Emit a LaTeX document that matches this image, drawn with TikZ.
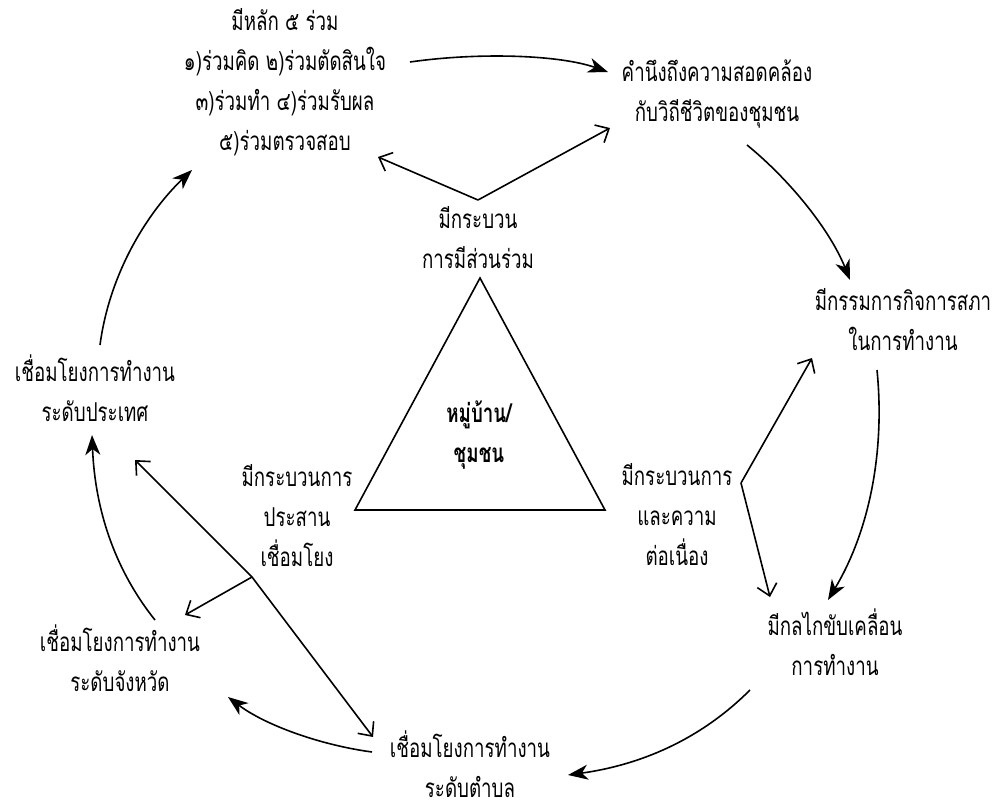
\documentclass[tikz,border=0pt]{standalone}
\usepackage{fontspec}
\newfontfamily\thai[Script=Thai,FakeStretch=0.72]{Loma}
\usetikzlibrary{arrows.meta}
\begin{document}
\begin{tikzpicture}[x=1pt,y=-1pt,
  lbl/.style={font=\thai\fontsize{26}{40}\selectfont, align=center, inner sep=0pt},
  ctr/.style={font=\thai\bfseries\fontsize{26}{40}\selectfont, align=center, inner sep=0pt},
  flow/.style={line width=1.6pt, -{Stealth[length=20pt,width=15pt,inset=6pt]}},
  link/.style={line width=1.6pt, -{Straight Barb[length=11pt,width=20pt]}},
  twolink/.style={line width=1.6pt, {Straight Barb[length=11pt,width=20pt]}-{Straight Barb[length=11pt,width=20pt]}},
  tri/.style={line width=1.6pt}]
\useasboundingbox (0,0) rectangle (1002,809);
% text blocks
\node[lbl] (t1) at (285,82) {มีหลัก ๕ ร่วม\\ ๑)ร่วมคิด ๒)ร่วมตัดสินใจ\\ ๓)ร่วมทำ ๔)ร่วมรับผล\\ ๕)ร่วมตรวจสอบ};
\node[lbl] (t2) at (717,94) {คำนึงถึงความสอดคล้อง\\ กับวิถีชีวิตของชุมชน};
\node[lbl] (t3) at (903,320) {มีกรรมการกิจการสภา\\ ในการทำงาน};
\node[lbl] (t4) at (835,642) {มีกลไกขับเคลื่อน\\ การทำงาน};
\node[lbl] (t5) at (470,764) {เชื่อมโยงการทำงาน\\ ระดับตำบล};
\node[lbl] (t6) at (120,658) {เชื่อมโยงการทำงาน\\ ระดับจังหวัด};
\node[lbl] (t7) at (95,388) {เชื่อมโยงการทำงาน\\ ระดับประเทศ};
\node[lbl] (p1) at (478,238) {มีกระบวน\\ การมีส่วนร่วม};
\node[lbl] (p2) at (297,516) {มีกระบวนการ\\ ประสาน\\ เชื่อมโยง};
\node[lbl] (p3) at (677,515) {มีกระบวนการ\\ และความ\\ ต่อเนื่อง};
% triangle
\coordinate (ta) at (480,278);
\coordinate (tl) at (355,510);
\coordinate (tr) at (605,510);
\draw[tri] (ta) -- (tr) -- (tl) -- cycle;
\node[ctr] (c) at (479,435) {หมู่บ้าน/\\ ชุมชน};
% cycle arrows
\coordinate (a1s) at (410,62);  \coordinate (a1e) at (608,72);
\coordinate (a2s) at (747,145); \coordinate (a2e) at (850,280);
\coordinate (a3s) at (877,370); \coordinate (a3e) at (828,600);
\coordinate (a4s) at (750,690); \coordinate (a4e) at (568,775);
\coordinate (a5s) at (372,752); \coordinate (a5e) at (228,697);
\coordinate (a6s) at (155,620); \coordinate (a6e) at (92,435);
\coordinate (a7s) at (100,345); \coordinate (a7e) at (192,170);
\draw[flow] (a1s) .. controls (480,52) and (560,55) .. (a1e);
\draw[flow] (a2s) .. controls (790,180) and (830,230) .. (a2e);
\draw[flow] (a3s) .. controls (885,450) and (870,530) .. (a3e);
\draw[flow] (a4s) .. controls (700,740) and (640,765) .. (a4e);
\draw[flow] (a5s) .. controls (320,745) and (265,725) .. (a5e);
\draw[flow] (a6s) .. controls (115,570) and (95,510) .. (a6e);
\draw[flow] (a7s) .. controls (110,270) and (150,210) .. (a7e);
% process links
\coordinate (j1) at (478,200);
\coordinate (j1a) at (378,157); \coordinate (j1b) at (610,128);
\draw[link] (j1) -- (j1a);
\draw[link] (j1) -- (j1b);
\coordinate (j3) at (741,483);
\coordinate (j3a) at (812,358); \coordinate (j3b) at (770,597);
\draw[link] (j3) -- (j3a);
\draw[link] (j3) -- (j3b);
\coordinate (j2) at (252,577);
\coordinate (j2a) at (135,460); \coordinate (j2b) at (373,737); \coordinate (j2c) at (185,615);
\draw[twolink] (j2a) -- (j2) -- (j2b);
\draw[link] (j2) -- (j2c);
\end{tikzpicture}
\end{document}
